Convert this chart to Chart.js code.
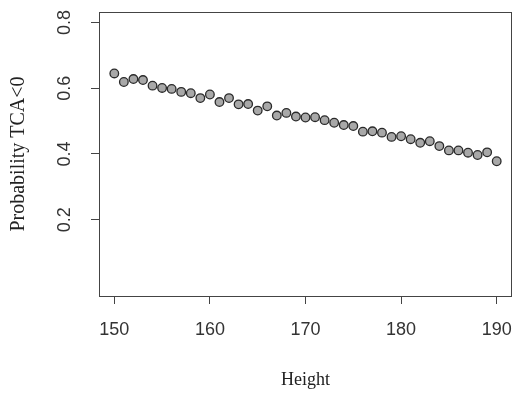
<!DOCTYPE html>
<html>
<head>
<meta charset="utf-8">
<script src="https://cdn.jsdelivr.net/npm/chart.js@4"></script>
<style>
  html, body { margin: 0; padding: 0; background: #fff; }
  #wrap { width: 513px; height: 397px; }
</style>
</head>
<body>
<div id="wrap"><canvas id="grafico" width="513" height="397"></canvas></div>
<script>
// ==============================
// Datos: probabilidad TCA<0 por altura
// ==============================
const heights = [150, 151, 152, 153, 154, 155, 156, 157, 158, 159,
                 160, 161, 162, 163, 164, 165, 166, 167, 168, 169,
                 170, 171, 172, 173, 174, 175, 176, 177, 178, 179,
                 180, 181, 182, 183, 184, 185, 186, 187, 188, 189, 190];
const probs = [0.645, 0.619, 0.628, 0.625, 0.608, 0.601, 0.598, 0.589, 0.585, 0.570,
               0.581, 0.558, 0.570, 0.551, 0.552, 0.532, 0.545, 0.517, 0.525, 0.514,
               0.511, 0.512, 0.503, 0.495, 0.488, 0.485, 0.468, 0.469, 0.465, 0.452,
               0.454, 0.445, 0.434, 0.439, 0.424, 0.411, 0.411, 0.404, 0.397, 0.405, 0.378];
const xTicks = [150, 160, 170, 180, 190];
const yTicks = [0.2, 0.4, 0.6, 0.8];

const axisColor = "#444";

// caja alrededor del área de dibujo (como en R)
const boxPlugin = {
    id: "box",
    afterDraw(chart) {
        const a = chart.chartArea;
        const ctx = chart.ctx;
        ctx.save();
        ctx.strokeStyle = axisColor;
        ctx.lineWidth = 1;
        ctx.strokeRect(Math.round(a.left) + 0.5, Math.round(a.top) + 0.5,
                       Math.round(a.right - a.left) - 1, Math.round(a.bottom - a.top));
        ctx.restore();
    }
};

// sin relleno automático por etiquetas en los bordes
const noPad = s => { s.paddingLeft = 0; s.paddingRight = 0; s.paddingTop = 0; s.paddingBottom = 0; };

const ctx = document.getElementById("grafico").getContext("2d");
new Chart(ctx, {
    type: "scatter",
    data: {
        datasets: [{
            data: heights.map((h, i) => ({ x: h, y: probs[i] })),
            pointRadius: 4.3,
            pointBackgroundColor: "#a8a8a8",
            pointBorderColor: "#2a2a2a",
            pointBorderWidth: 1.3
        }]
    },
    options: {
        responsive: false,
        animation: false,
        layout: { autoPadding: false, padding: { top: 12, right: 1, left: 0, bottom: 0 } },
        plugins: {
            legend: { display: false },
            tooltip: { enabled: false }
        },
        scales: {
            x: {
                type: "linear",
                min: 148.4,
                max: 191.6,
                afterBuildTicks: s => { s.ticks = xTicks.map(v => ({ value: v })); },
                afterFit: s => { s.height = 101; noPad(s); },
                grid: { drawOnChartArea: false, drawTicks: true, tickLength: 8, tickColor: axisColor },
                border: { display: false },
                ticks: {
                    color: "#333",
                    padding: 15,
                    maxRotation: 0,
                    font: { family: "'Liberation Sans', Arial", size: 18 }
                },
                title: {
                    display: true,
                    text: "Height",
                    color: "#222",
                    padding: { top: 0, bottom: 6 },
                    font: { family: "'Liberation Serif', 'Times New Roman', serif", size: 18 }
                }
            },
            y: {
                min: -0.032,
                max: 0.832,
                afterBuildTicks: s => { s.ticks = yTicks.map(v => ({ value: v })); },
                afterFit: s => { s.width = 99; noPad(s); },
                grid: { drawOnChartArea: false, drawTicks: true, tickLength: 8, tickColor: axisColor },
                border: { display: false },
                ticks: {
                    color: "#333",
                    padding: 13,
                    minRotation: 90,
                    maxRotation: 90,
                    crossAlign: "center",
                    font: { family: "'Liberation Sans', Arial", size: 18 },
                    callback: v => v.toFixed(1)
                },
                title: {
                    display: true,
                    text: "Probability TCA<0",
                    color: "#222",
                    padding: { top: 7, bottom: 0 },
                    font: { family: "'Liberation Serif', 'Times New Roman', serif", size: 20 }
                }
            }
        }
    },
    plugins: [boxPlugin]
});
</script>
</body>
</html>
